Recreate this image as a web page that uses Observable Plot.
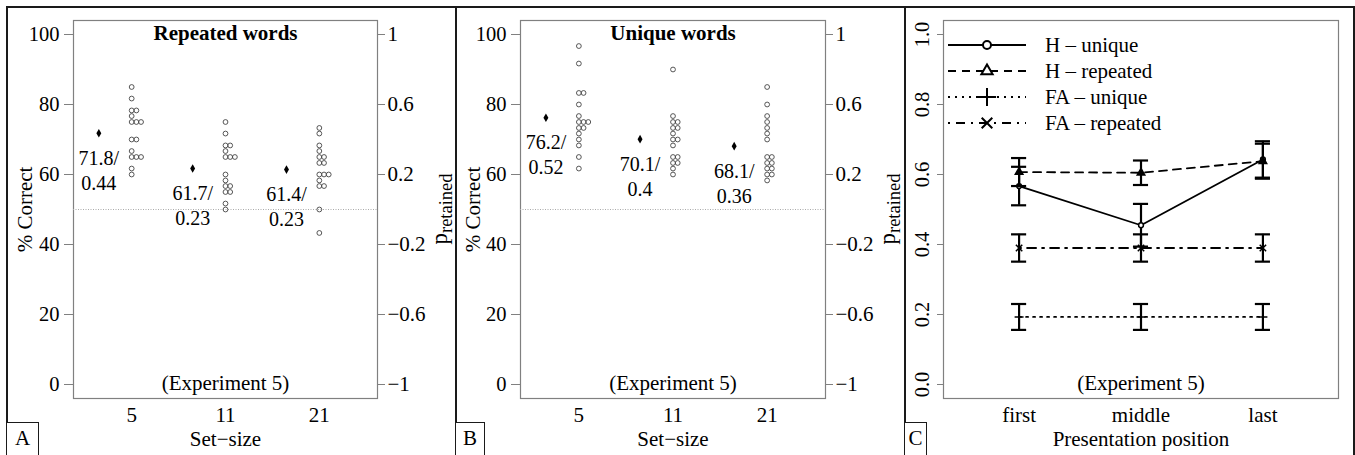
<!DOCTYPE html>
<html>
<head>
<meta charset="utf-8">
<script src="https://cdn.jsdelivr.net/npm/d3@7"></script>
<script src="https://cdn.jsdelivr.net/npm/@observablehq/plot@0.6"></script>
<style>
html, body { margin: 0; padding: 0; background: #fff; }
#fig { position: relative; width: 1355px; height: 455px; overflow: hidden; font-family: "Liberation Serif", "Times New Roman", serif; background: #fff; }
#fig svg { position: absolute; top: 0; overflow: visible; }
.bline { position: absolute; background: #1a1a1a; }
.plab { position: absolute; box-sizing: border-box; border: 1.3px solid #1a1a1a; background: #fff; font-size: 21px; line-height: 30px; text-align: center; color: #000; }
</style>
</head>
<body>
<div id="fig"></div>
<script>
// ---------- data ----------
const setSizes = ["5", "11", "21"];
const positions = ["first", "middle", "last"];

// Panel A: repeated words, % correct per subject
const repeated5  = [85, 81.7, 78.3, 78.3, 76.7, 75, 75, 75, 70, 70, 66.7, 65, 65, 65, 61.7, 60];
const repeated11 = [75, 71.7, 68.3, 68.3, 66.7, 65, 65, 65, 60, 58.3, 56.7, 56.7, 55, 55, 51.7, 50];
const repeated21 = [73.3, 71.7, 68.3, 66.7, 65, 65, 63.3, 63.3, 60, 60, 60, 58.3, 56.7, 56.7, 50, 43.3];
const repeatedMeans = [71.8, 61.7, 61.4];
const repeatedPret = ["0.44", "0.23", "0.23"];

// Panel B: unique words
const unique5  = [96.7, 91.7, 83.3, 83.3, 80, 76.7, 75, 75, 75, 73.3, 73.3, 71.7, 70, 68.3, 65, 61.7];
const unique11 = [90, 76.7, 75, 75, 73.3, 73.3, 71.7, 70, 70, 68.3, 65, 65, 63.3, 63.3, 61.7, 60];
const unique21 = [85, 80, 76.7, 75, 73.3, 71.7, 70, 65, 65, 63.3, 63.3, 61.7, 61.7, 60, 60, 58.3];
const uniqueMeans = [76.2, 70.1, 68.1];
const uniquePret = ["0.52", "0.4", "0.36"];

const pctTicks = [0, 20, 40, 60, 80, 100];
const pretTickLabels = ["\u22121", "\u22120.6", "\u22120.2", "0.2", "0.6", "1"];

// Panel C: proportions by presentation position
const propTicks = [0, 0.2, 0.4, 0.6, 0.8, 1.0];
const hUnique = [0.567, 0.455, 0.643];
const hUniqueErr = [0.055, 0.061, 0.052];
const hRepeated = [0.607, 0.605, 0.638];
const hRepeatedErr = [0.040, 0.035, 0.050];
const faUnique = [0.193, 0.193, 0.193];
const faUniqueErr = [0.037, 0.037, 0.037];
const faRepeated = [0.390, 0.390, 0.390];
const faRepeatedErr = [0.039, 0.039, 0.039];
const seriesNames = ["H \u2013 unique", "H \u2013 repeated", "FA \u2013 unique", "FA \u2013 repeated"];

// ---------- layout ----------
const FONT = "Liberation Serif, Times New Roman, serif";
const fig = document.getElementById("fig");
const T = {lineAnchor: "middle", fill: "#000"};

function stripPanel(title, cols, means, pret, left, width, ml, mr, ylabDx) {
  const pts = [];
  cols.forEach((vals, i) => {
    const seen = new Map();
    for (const v of vals) { const k = seen.get(v) || 0; seen.set(v, k + 1); pts.push({pos: i + 1, k, v}); }
  });
  const mrows = means.map((m, i) => ({pos: i + 1, m, top: m + "/", bottom: pret[i]}));
  const svg = Plot.plot({
    width, height: 455,
    marginLeft: ml, marginRight: mr, marginTop: 20, marginBottom: 57,
    x: {domain: [0.38, 3.62]},
    y: {domain: [-4, 104]},
    style: {fontFamily: FONT, fontSize: "20px", background: "transparent", color: "#000"},
    marks: [
      Plot.frame({stroke: "#808080", strokeWidth: 1.2}),
      Plot.ruleY([50], {stroke: "#aaa", strokeWidth: 1, strokeDasharray: "1,1.5"}),
      Plot.axisY({ticks: pctTicks, tickSize: 9, tickFormat: () => "", stroke: "#808080", label: null}),
      Plot.axisY({anchor: "right", ticks: pctTicks, tickFormat: () => "", tickSize: 7, stroke: "#808080", label: null}),
      Plot.axisX({ticks: [], tickSize: 0, tickFormat: () => "", label: null}),
      Plot.text(pctTicks, {...T, y: d => d, text: d => String(d), frameAnchor: "left", dx: -14, textAnchor: "end", fontSize: 20.5}),
      Plot.text(pctTicks, {...T, y: d => d, text: (d, i) => pretTickLabels[i], frameAnchor: "right", dx: 10, textAnchor: "start", fontSize: 21}),
      Plot.text([1, 2, 3], {...T, x: d => d, text: d => setSizes[d - 1], frameAnchor: "bottom", dy: 17, textAnchor: "middle", fontSize: 21}),
      Plot.dot(pts, {x: d => d.pos + 0.05 * d.k, y: "v", r: 2.4, stroke: "#444", strokeWidth: 0.9, fill: "none"}),
      Plot.dot(mrows, {x: d => d.pos - 0.35, y: "m", symbol: "diamond", r: 2.6, fill: "#000"}),
      Plot.text(mrows, {...T, x: d => d.pos - 0.35, y: "m", text: "top", dy: 25, fontSize: 20}),
      Plot.text(mrows, {...T, x: d => d.pos - 0.35, y: "m", text: "bottom", dy: 50, fontSize: 20}),
      Plot.text([title], {...T, text: d => d, frameAnchor: "top", dy: 13, textAnchor: "middle", fontWeight: "bold", fontSize: 21}),
      Plot.text(["(Experiment 5)"], {...T, text: d => d, frameAnchor: "bottom", dy: -15, textAnchor: "middle", fontSize: 21}),
      Plot.text(["Set\u2212size"], {...T, text: d => d, frameAnchor: "bottom", dy: 41, textAnchor: "middle", fontSize: 21}),
      Plot.text(["% Correct"], {...T, text: d => d, frameAnchor: "left", dx: ylabDx, rotate: -90, textAnchor: "middle", fontSize: 21})
    ]
  });
  svg.style.left = left + "px";
  // right axis title p_retained
  const plotRight = width - mr;
  const t = d3.select(svg).append("text")
    .attr("transform", `translate(${plotRight + 70},${20 + (455 - 20 - 57) / 2}) rotate(-90)`)
    .attr("text-anchor", "middle").attr("font-family", FONT).attr("fill", "#000");
  t.append("tspan").attr("font-size", 23).text("p");
  t.append("tspan").attr("font-size", 18.5).attr("dy", 5).text("retained");
  fig.appendChild(svg);
}

stripPanel("Repeated words", [repeated5, repeated11, repeated21], repeatedMeans, repeatedPret, 0, 456, 73, 79, -48);
stripPanel("Unique words", [unique5, unique11, unique21], uniqueMeans, uniquePret, 456, 449, 64, 80, -47);

// Panel C
const series = [
  {name: seriesNames[0], vals: hUnique, errs: hUniqueErr, dash: null, symbol: "circle", fill: "white", r: 2.4, legendSym: d3.symbolCircle, legendSize: 50, legendFill: "#fff"},
  {name: seriesNames[1], vals: hRepeated, errs: hRepeatedErr, dash: "8,6", symbol: "triangle", fill: "#000", r: 2.8, legendSym: d3.symbolTriangle, legendSize: 55, legendFill: "#fff"},
  {name: seriesNames[2], vals: faUnique, errs: faUniqueErr, dash: "2,5", symbol: "plus", fill: "none", r: 3, legendSym: d3.symbolPlus, legendSize: 110, legendFill: "none"},
  {name: seriesNames[3], vals: faRepeated, errs: faRepeatedErr, dash: "2,6,9,6", symbol: "times", fill: "none", r: 3, legendSym: d3.symbolTimes, legendSize: 75, legendFill: "none"}
];
const cMarks = [
  Plot.frame({stroke: "#808080", strokeWidth: 1.2}),
  Plot.axisY({ticks: propTicks, tickSize: 6, tickFormat: () => "", stroke: "#808080", label: null}),
  Plot.axisX({ticks: [], tickSize: 0, tickFormat: () => "", label: null}),
  Plot.text(propTicks, {...T, y: d => d, text: d => d.toFixed(1), frameAnchor: "left", dx: -21, rotate: -90, textAnchor: "middle", fontSize: 20.5}),
  Plot.text([1, 2, 3], {...T, x: d => d, text: d => positions[d - 1], frameAnchor: "bottom", dy: 17, textAnchor: "middle", fontSize: 21}),
  Plot.text(["(Experiment 5)"], {...T, text: d => d, frameAnchor: "bottom", dy: -15, textAnchor: "middle", fontSize: 21}),
  Plot.text(["Presentation position"], {...T, text: d => d, frameAnchor: "bottom", dy: 41, textAnchor: "middle", fontSize: 21})
];
for (const s of series) {
  const rows = s.vals.map((v, i) => ({pos: i + 1, v, lo: v - s.errs[i], hi: v + s.errs[i]}));
  cMarks.push(
    Plot.line(rows, {x: "pos", y: "v", stroke: "#000", strokeWidth: 1.8, strokeDasharray: s.dash}),
    Plot.ruleX(rows, {x: "pos", y1: "lo", y2: "hi", stroke: "#000", strokeWidth: 2.2}),
    Plot.ruleY(rows, {y: "lo", x1: d => d.pos - 0.062, x2: d => d.pos + 0.062, stroke: "#000", strokeWidth: 2.2}),
    Plot.ruleY(rows, {y: "hi", x1: d => d.pos - 0.062, x2: d => d.pos + 0.062, stroke: "#000", strokeWidth: 2.2}),
    Plot.dot(rows, {x: "pos", y: "v", symbol: s.symbol, r: s.r, stroke: "#000", strokeWidth: 1.5, fill: s.fill})
  );
}
const svgC = Plot.plot({
  width: 450, height: 455,
  marginLeft: 38, marginRight: 17, marginTop: 20, marginBottom: 57,
  x: {domain: [0.38, 3.62]},
  y: {domain: [-0.04, 1.04]},
  style: {fontFamily: FONT, fontSize: "20px", background: "transparent", color: "#000"},
  marks: cMarks
});
svgC.style.left = "905px";
// legend
const lg = d3.select(svgC).append("g").attr("font-family", FONT).attr("font-size", 21).attr("text-anchor", "start");
series.forEach((s, i) => {
  const y = 45 + i * 26;
  lg.append("line").attr("x1", 43).attr("x2", 121).attr("y1", y).attr("y2", y)
    .attr("stroke", "#000").attr("stroke-width", 1.8).attr("stroke-dasharray", s.dash);
  lg.append("path").attr("d", d3.symbol(s.legendSym, s.legendSize)())
    .attr("transform", `translate(82,${y})`)
    .attr("fill", s.legendFill).attr("stroke", "#000").attr("stroke-width", 2);
  lg.append("text").attr("x", 140).attr("y", y + 7).attr("text-anchor", "start").attr("fill", "#000").text(s.name);
});
fig.appendChild(svgC);

// figure frame and panel letters
function bline(l, t, w, h) { const d = document.createElement("div"); d.className = "bline"; Object.assign(d.style, {left: l + "px", top: t + "px", width: w + "px", height: h + "px"}); fig.appendChild(d); }
bline(6, 6, 1349, 1.5);
bline(6, 6, 1.5, 449);
bline(455, 6, 1.5, 449);
bline(904, 6, 1.5, 449);
bline(1353, 6, 1.5, 449);
function plab(txt, l, w) { const d = document.createElement("div"); d.className = "plab"; d.textContent = txt; Object.assign(d.style, {left: l + "px", top: "422px", width: w + "px", height: "36px"}); fig.appendChild(d); }
plab("A", 6, 33);
plab("B", 455, 30);
plab("C", 904, 23);
</script>
</body>
</html>
